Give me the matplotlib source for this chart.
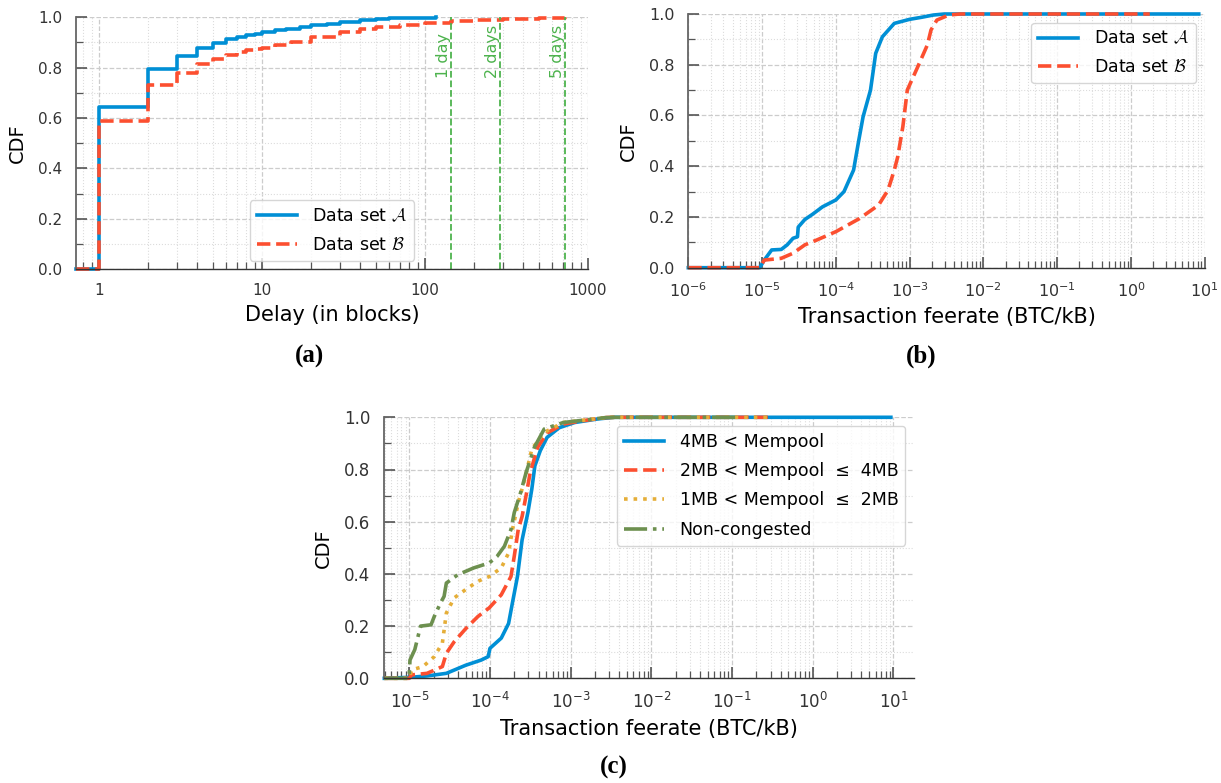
#! /usr/bin/env python3
import numpy as np
import matplotlib
matplotlib.use('Agg')
import matplotlib.pyplot as plt
from matplotlib.ticker import LogLocator, FuncFormatter, MultipleLocator, NullFormatter

plt.rcParams['font.family'] = 'DejaVu Sans'
plt.rcParams['mathtext.fontset'] = 'cm'

BLUE = '#008fd5'
RED = '#fc4f30'
YELLOW = '#e5ae38'
GREEN = '#6d904f'
DAYCOL = '#4db34d'

# (a) confirmation delay, in blocks
delay_A = [0.72, 1, 2, 3, 4, 5, 6, 7, 8, 9, 10, 12, 14, 17, 20, 25, 30, 40, 50, 60, 80, 117]
cdf_delay_A = [0, 0.645, 0.793, 0.848, 0.878, 0.898, 0.912, 0.921, 0.928, 0.934, 0.94, 0.948,
               0.955, 0.962, 0.968, 0.975, 0.981, 0.988, 0.993, 0.996, 0.999, 1.0]
delay_B = [0.72, 1, 2, 3, 4, 5, 6, 7, 8, 9, 10, 12, 15, 20, 30, 40, 50, 70, 100, 144, 200, 300, 500, 720]
cdf_delay_B = [0, 0.59, 0.73, 0.78, 0.815, 0.835, 0.852, 0.862, 0.869, 0.875, 0.88, 0.89, 0.903,
               0.92, 0.94, 0.952, 0.96, 0.97, 0.979, 0.987, 0.991, 0.995, 0.998, 1.0]
day_blocks = [144, 288, 720]
day_labels = ['1 day', '2 days', '5 days']

# (b) feerate, data sets A and B
fee_A = [1e-6, 9.3e-6, 1.07e-5, 1.35e-5, 1.82e-5, 2.19e-5, 2.63e-5, 3.02e-5, 3.09e-5, 3.8e-5,
         4.8e-5, 6.6e-5, 1.0e-4, 1.29e-4, 1.74e-4, 2.04e-4, 2.34e-4, 2.95e-4, 3.47e-4, 4.27e-4,
         6.2e-4, 1.0e-3, 1.45e-3, 2.1e-3, 2.95e-3, 8.3]
cdf_fee_A = [0, 0, 0.03, 0.07, 0.072, 0.09, 0.116, 0.122, 0.16, 0.19, 0.21, 0.24, 0.267, 0.30,
             0.385, 0.50, 0.595, 0.70, 0.845, 0.91, 0.963, 0.979, 0.987, 0.996, 1.0, 1.0]
fee_B = [1e-6, 9.3e-6, 1.07e-5, 1.82e-5, 2.63e-5, 3.8e-5, 5.5e-5, 1.0e-4, 2.1e-4, 3.8e-4, 5.1e-4,
         6.2e-4, 6.9e-4, 8.1e-4, 9.3e-4, 1.29e-3, 1.74e-3, 1.95e-3, 2.34e-3, 3.4e-3, 4.8e-3, 1.8]
cdf_fee_B = [0, 0, 0.03, 0.037, 0.057, 0.09, 0.109, 0.142, 0.194, 0.247, 0.306, 0.385, 0.437,
             0.556, 0.70, 0.792, 0.878, 0.937, 0.976, 0.996, 1.0, 1.0]

# (c) feerate by mempool size
fee_4mb = [4.9e-6, 1.05e-5, 1.66e-5, 2.88e-5, 5.0e-5, 7.8e-5, 9.5e-5, 1.0e-4, 1.38e-4, 1.7e-4,
           1.9e-4, 2.19e-4, 2.5e-4, 2.95e-4, 3.3e-4, 3.6e-4, 4.2e-4, 5.1e-4, 7.2e-4, 1.12e-3,
           2.2e-3, 3.5e-3, 9.3]
cdf_4mb = [0, 0.004, 0.009, 0.019, 0.05, 0.07, 0.083, 0.115, 0.154, 0.21, 0.29, 0.39, 0.53, 0.635,
           0.725, 0.814, 0.872, 0.923, 0.96, 0.98, 0.994, 1.0, 1.0]
fee_2mb = [4.9e-6, 1.0e-5, 1.07e-5, 1.66e-5, 2.57e-5, 2.88e-5, 3.6e-5, 5.0e-5, 7.1e-5, 9.8e-5,
           1.38e-4, 1.82e-4, 2.0e-4, 2.24e-4, 2.5e-4, 2.8e-4, 3.16e-4, 3.9e-4, 5.1e-4, 8.1e-4,
           1.41e-3, 2.75e-3, 3.5e-3, 0.3]
cdf_2mb = [0, 0, 0.013, 0.019, 0.045, 0.096, 0.14, 0.19, 0.237, 0.27, 0.32, 0.39, 0.468, 0.57,
           0.62, 0.70, 0.79, 0.885, 0.94, 0.974, 0.987, 0.999, 1.0, 1.0]
fee_1mb = [4.9e-6, 1.0e-5, 1.07e-5, 1.48e-5, 2.04e-5, 2.57e-5, 2.88e-5, 3.6e-5, 5.0e-5, 7.1e-5,
           9.8e-5, 1.38e-4, 1.7e-4, 1.9e-4, 2.24e-4, 2.7e-4, 3.3e-4, 4.7e-4, 8.1e-4, 2.75e-3,
           3.5e-3, 0.3]
cdf_1mb = [0, 0, 0.032, 0.045, 0.083, 0.135, 0.25, 0.308, 0.34, 0.372, 0.39, 0.423, 0.48, 0.57,
           0.673, 0.763, 0.878, 0.942, 0.98, 0.999, 1.0, 1.0]
fee_nc = [4.9e-6, 9.8e-6, 1.0e-5, 1.02e-5, 1.17e-5, 1.38e-5, 1.86e-5, 2.04e-5, 2.45e-5, 2.7e-5,
          2.88e-5, 4.0e-5, 6.3e-5, 9.8e-5, 1.23e-4, 1.51e-4, 1.82e-4, 2.0e-4, 2.4e-4, 2.8e-4,
          3.55e-4, 4.7e-4, 8.1e-4, 2.75e-3, 3.5e-3, 0.12]
cdf_nc = [0, 0, 0.02, 0.07, 0.11, 0.2, 0.205, 0.237, 0.29, 0.314, 0.365, 0.397, 0.423, 0.442,
          0.468, 0.506, 0.57, 0.635, 0.712, 0.788, 0.885, 0.955, 0.98, 0.999, 1.0, 1.0]

mempool_labels = ['4MB < Mempool', '2MB < Mempool  \u2264  4MB', '1MB < Mempool  \u2264  2MB', 'Non-congested']


def style_axes(ax, xlabel, ticksize=11):
    ax.set_xscale('log')
    ax.set_ylim(0, 1.0)
    ax.yaxis.set_major_locator(MultipleLocator(0.2))
    ax.yaxis.set_minor_locator(MultipleLocator(0.1))
    ax.yaxis.set_major_formatter(FuncFormatter(lambda v, p: '%.1f' % v))
    ax.xaxis.set_minor_locator(LogLocator(base=10, subs=np.arange(2, 10), numticks=100))
    ax.xaxis.set_minor_formatter(NullFormatter())
    ax.grid(which='major', color='#cccccc', linestyle='--', linewidth=0.9)
    ax.grid(which='minor', color='#dcdcdc', linestyle=':', linewidth=0.8)
    ax.set_axisbelow(True)
    for s in ['top', 'right']:
        ax.spines[s].set_visible(False)
    ax.spines['left'].set_color('#666666')
    ax.spines['left'].set_linewidth(1.3)
    ax.spines['bottom'].set_color('#333333')
    ax.spines['bottom'].set_linewidth(1.0)
    ax.tick_params(which='major', direction='in', length=8, width=1.2, color='#555555',
                   labelsize=ticksize, labelcolor='#333333', pad=10)
    ax.tick_params(which='minor', direction='in', length=5, width=0.9, color='#555555')
    ax.tick_params(axis='y', which='major', pad=10)
    ax.set_xlabel(xlabel, fontsize=15, labelpad=5)
    ax.set_ylabel('CDF', fontsize=14, labelpad=8)


fig = plt.figure(figsize=(12.21, 7.83), dpi=100)
W, H = 1221.0, 783.0

# (a)
ax1 = fig.add_axes([76 / W, 1 - 269.3 / H, 512 / W, 252 / H])
style_axes(ax1, 'Delay (in blocks)')
ax1.step(delay_A, cdf_delay_A, where='post', color=BLUE, lw=2.6, label=r'Data set $\mathcal{A}$', clip_on=False)
ax1.step(delay_B, cdf_delay_B, where='post', color=RED, lw=2.6, ls='--', label=r'Data set $\mathcal{B}$', clip_on=False)
for d, t in zip(day_blocks, day_labels):
    ax1.axvline(d, color=DAYCOL, ls='--', lw=1.3)
    ax1.text(d, 0.76, t, rotation=90, ha='right', va='bottom', color=DAYCOL, fontsize=11.5)
ax1.set_xlim(0.72, 1000)
ax1.xaxis.set_major_locator(LogLocator(base=10, numticks=10))
ax1.xaxis.set_major_formatter(FuncFormatter(lambda v, p: '%d' % v))
ax1.legend(loc='lower center', fontsize=12.5, handlelength=2.3, handletextpad=0.9, labelspacing=0.6)

# (b)
ax2 = fig.add_axes([688.3 / W, 1 - 267.7 / H, 516.4 / W, 253.7 / H])
style_axes(ax2, 'Transaction feerate (BTC/kB)', ticksize=11.5)
ax2.plot(fee_A, cdf_fee_A, color=BLUE, lw=2.6, label=r'Data set $\mathcal{A}$', clip_on=False)
ax2.plot(fee_B, cdf_fee_B, color=RED, lw=2.6, ls='--', label=r'Data set $\mathcal{B}$', clip_on=False)
ax2.set_xlim(1e-6, 1e1)
ax2.xaxis.set_major_locator(LogLocator(base=10, numticks=20))
ax2.legend(loc='upper right', fontsize=12.5, handlelength=2.3, handletextpad=0.9, labelspacing=0.6)

# (c)
ax3 = fig.add_axes([384.3 / W, 1 - 678.3 / H, 529.7 / W, 261 / H])
style_axes(ax3, 'Transaction feerate (BTC/kB)', ticksize=12)
ax3.plot(fee_4mb, cdf_4mb, color=BLUE, lw=2.6, label=mempool_labels[0], clip_on=False)
ax3.plot(fee_2mb, cdf_2mb, color=RED, lw=2.6, ls='--', label=mempool_labels[1], clip_on=False)
ax3.plot(fee_1mb, cdf_1mb, color=YELLOW, lw=2.6, ls=':', label=mempool_labels[2], clip_on=False)
ax3.plot(fee_nc, cdf_nc, color=GREEN, lw=2.6, ls='-.', label=mempool_labels[3], clip_on=False)
ax3.set_xlim(4.9e-6, 18)
ax3.xaxis.set_major_locator(LogLocator(base=10, numticks=20))
ax3.legend(loc='upper right', fontsize=12.5, handlelength=2.3, handletextpad=0.9, labelspacing=0.65)

# sub-figure captions
for x, y, t in [(310, 356, '(a)'), (921, 356, '(b)'), (614, 767, '(c)')]:
    fig.text(x / W, 1 - y / H, t, ha='center', va='center', fontsize=18,
             fontweight='bold', family='Liberation Serif')

fig.savefig('out.png', dpi=100)
